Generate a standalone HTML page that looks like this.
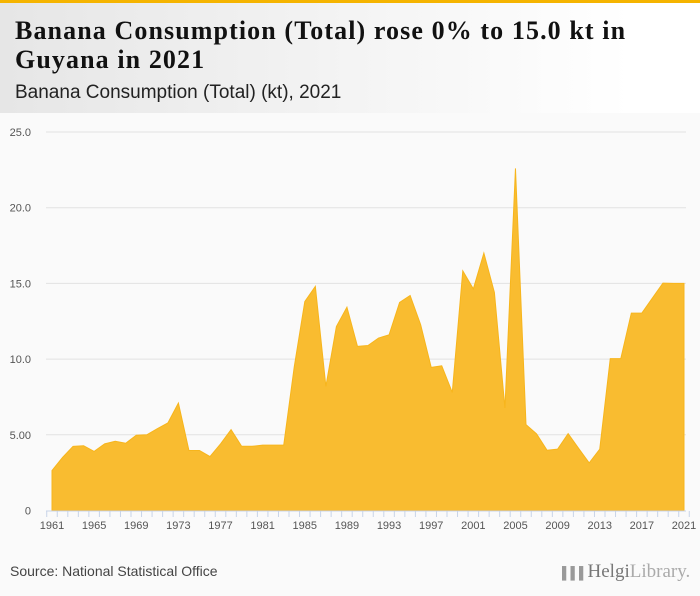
<!DOCTYPE html>
<html><head><meta charset="utf-8"><style>
body{margin:0;width:700px;height:596px;background:#fafafa;font-family:"Liberation Sans",sans-serif;overflow:hidden;position:relative}
#topbar{position:absolute;left:0;top:0;width:700px;height:3px;background:#f5b400}
#header{position:absolute;left:0;top:3px;width:700px;height:110px;background:linear-gradient(90deg,#e6e6e6,#ffffff 90%)}
#title{position:absolute;left:15px;top:13px;font-family:"Liberation Serif",serif;font-weight:bold;font-size:26px;line-height:29px;color:#111;letter-spacing:1.1px;white-space:nowrap}
#subtitle{position:absolute;left:15px;top:79px;font-size:19px;color:#222}
#source{position:absolute;left:10px;top:563px;font-size:14px;color:#444}
#logo{position:absolute;left:562px;top:561px;font-family:"Liberation Serif",serif;font-size:19px;line-height:22px;color:#888;white-space:nowrap}
</style></head><body>
<div id="topbar"></div>
<div id="header">
<div id="title">Banana Consumption (Total) rose 0% to 15.0 kt in<br>Guyana in 2021</div>
<div id="subtitle">Banana Consumption (Total) (kt), 2021</div>
</div>
<svg id="chart" width="700" height="596" style="position:absolute;left:0;top:0"></svg>
<div id="source">Source: National Statistical Office</div>
<div id="logo"><span style="font-size:12px;color:#999">▌▌▌</span><span style="color:#777">Helgi</span><span style="color:#aaa">Library.</span></div>
<script>
const years=[];for(let y=1961;y<=2021;y++)years.push(y);
const values=[2.64,3.5,4.24,4.28,3.9,4.4,4.57,4.44,4.97,5.0,5.4,5.78,7.1,3.96,3.96,3.56,4.4,5.34,4.24,4.24,4.32,4.32,4.32,9.5,13.8,14.8,8.2,12.15,13.43,10.84,10.9,11.39,11.6,13.74,14.2,12.27,9.45,9.56,7.8,15.83,14.64,17.0,14.4,6.77,22.6,5.67,5.06,3.98,4.05,5.08,4.1,3.14,4.05,10.03,10.03,13.04,13.04,14.03,15.02,15.0,15.0];
const yTicks=[0,5,10,15,20,25];
const yTickLabels=["0","5.00","10.0","15.0","20.0","25.0"];
const xLabelYears=[1961,1965,1969,1973,1977,1981,1985,1989,1993,1997,2001,2005,2009,2013,2017,2021];
const NS="http://www.w3.org/2000/svg";
const svg=document.getElementById('chart');
const x=yr=>52+(yr-1961)*(632/60);
const y=v=>510.5-v*(378.5/25);
function mk(t,a){const e=document.createElementNS(NS,t);for(const k in a)e.setAttribute(k,a[k]);svg.appendChild(e);return e;}
yTicks.forEach((t,i)=>{
 if(t>0){const g=mk('line',{x1:46,x2:686,y1:y(t),y2:y(t),stroke:'#e2e2e2','stroke-width':1});
 
 }
 const l=mk('text',{x:31,y:y(t)+4,'text-anchor':'end','font-size':11,fill:'#555','font-family':'Liberation Sans, sans-serif'});
 l.textContent=yTickLabels[i];
 
 
});
let d='M'+x(years[0])+','+y(0);
years.forEach((yr,i)=>{d+=' L'+x(yr)+','+y(values[i]);});
d+=' L'+x(years[years.length-1])+','+y(0)+' Z';
const area=mk('path',{d:d,fill:'#f9bc30',stroke:'#f7b51c','stroke-width':1});


const ax=mk('line',{x1:46,x2:686,y1:511,y2:511,stroke:'#c8d4e8','stroke-width':1});


for(let yr=1960.5;yr<=2021.5;yr+=1){const t=mk('line',{x1:x(yr),x2:x(yr),y1:511,y2:517,stroke:'#c8d4e8','stroke-width':1});
 
 }
xLabelYears.forEach(yr=>{
 const l=mk('text',{x:x(yr),y:529,'text-anchor':'middle','font-size':11,fill:'#555','font-family':'Liberation Sans, sans-serif'});
 l.textContent=yr;
 
 
});
</script>
</body></html>
